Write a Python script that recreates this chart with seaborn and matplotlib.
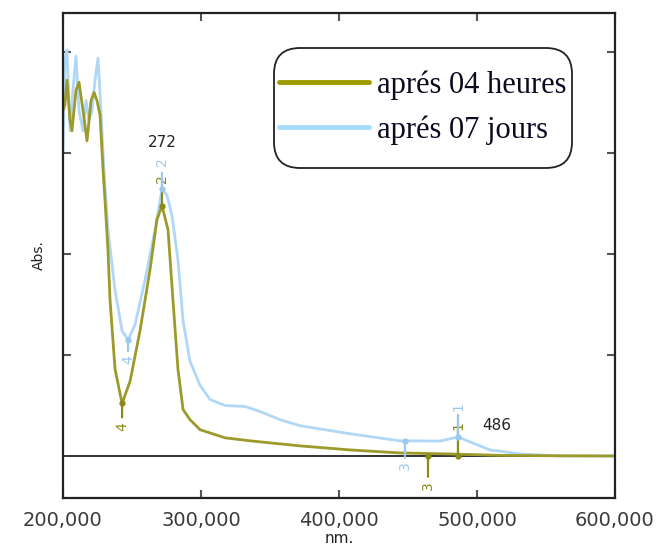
import numpy as np
import pandas as pd
import matplotlib
matplotlib.use("Agg")
import matplotlib.pyplot as plt
from matplotlib.patches import FancyBboxPatch
from matplotlib.lines import Line2D
import seaborn as sns

# ---------------- data ----------------
olive_nm = [200.0, 201.4, 202.9, 205.1, 206.5, 209.4, 211.6, 214.5, 217.4, 220.3, 222.5, 224.6, 226.8,
            229.0, 230.4, 232.6, 234.1, 237.7, 242.8, 248.6, 255.8, 263.0, 268.1, 271.7, 276.1, 279.7,
            283.3, 287.0, 292.0, 299.3, 317.4, 335.5, 371.7, 408.0, 444.2, 480.4, 516.7, 560.1, 600.0]
olive_abs = [1.71, 1.74, 1.86, 1.66, 1.61, 1.81, 1.85, 1.71, 1.56, 1.76, 1.80, 1.76, 1.69,
             1.42, 1.27, 1.02, 0.77, 0.43, 0.26, 0.37, 0.62, 0.92, 1.17, 1.24, 1.12, 0.77,
             0.43, 0.23, 0.18, 0.13, 0.09, 0.075, 0.05, 0.03, 0.015, 0.01, 0.003, 0.001, 0.0]

blue_nm = [200.0, 201.4, 202.9, 205.1, 207.2, 209.4, 211.6, 214.5, 216.7, 218.8, 221.0, 223.2, 225.4,
           227.5, 229.7, 232.6, 237.7, 242.8, 247.1, 252.2, 259.4, 266.7, 271.7, 275.4, 279.0, 283.3,
           287.0, 292.0, 299.3, 306.5, 317.4, 331.9, 342.8, 357.2, 371.7, 408.0, 444.2, 473.2, 486.2,
           494.9, 509.4, 531.2, 560.1, 600.0]
blue_abs = [1.51, 1.96, 2.01, 1.61, 1.81, 1.98, 1.71, 1.61, 1.76, 1.66, 1.71, 1.86, 1.97,
            1.71, 1.41, 1.12, 0.82, 0.62, 0.575, 0.65, 0.87, 1.12, 1.32, 1.29, 1.19, 0.97,
            0.67, 0.47, 0.35, 0.28, 0.25, 0.245, 0.22, 0.18, 0.15, 0.11, 0.075, 0.074, 0.094,
            0.07, 0.03, 0.01, 0.0, 0.0]

series_names = ["aprés 04 heures", "aprés 07 jours"]

# peak markers: (label, nm, value)
olive_marks = [("4", 242.8, 0.26), ("2", 271.7, 1.24), ("3", 464.5, 0.0), ("1", 486.2, 0.0)]
blue_marks = [("4", 247.1, 0.575), ("2", 271.7, 1.32), ("3", 447.8, 0.074), ("1", 486.2, 0.094)]

peak_labels = [("272", 272, 1.55), ("486", 514, 0.15)]

x_ticks = [200, 300, 400, 500, 600]
x_tick_labels = ["200,000", "300,000", "400,000", "500,000", "600,000"]
y_ticks = [0.5, 1.0, 1.5, 2.0]

# ---------------- plot ----------------
sns.set_style("white")
OLIVE = "#9c9a2a"
OLIVE_LEG = "#9e9a00"
BLUE = "#b0d8f6"
BLUE_LEG = "#a6dcfb"

df = pd.concat([
    pd.DataFrame({"nm": olive_nm, "abs": olive_abs, "serie": series_names[0]}),
    pd.DataFrame({"nm": blue_nm, "abs": blue_abs, "serie": series_names[1]}),
])

fig = plt.figure(figsize=(6.57, 5.47), dpi=100)
ax = fig.add_axes([63/657, 1-498/547, (615-63)/657, (498-13)/547])

sns.lineplot(data=df[df.serie == series_names[1]], x="nm", y="abs", color=BLUE, lw=2.0,
             ax=ax, legend=False, estimator=None, sort=False)
sns.lineplot(data=df[df.serie == series_names[0]], x="nm", y="abs", color=OLIVE, lw=2.0,
             ax=ax, legend=False, estimator=None, sort=False)

ax.axhline(0, color="#222222", lw=1.3, zorder=1)

ax.set_xlim(200, 600)
ax.set_ylim(-0.208, 2.193)

# markers
def draw_marks(marks, color, specs):
    for (lab, x, y), (line_off, text_off) in zip(marks, specs):
        ax.plot([x], [y], marker="o", ms=3.5, color=color, zorder=4)
        ax.annotate("", xy=(x, y), xytext=(0, line_off), textcoords="offset points",
                    arrowprops=dict(arrowstyle="-", color=color, lw=1.6, shrinkA=0, shrinkB=0))
        ax.annotate(lab, xy=(x, y), xytext=(0, text_off), textcoords="offset points",
                    rotation=90, ha="center", va="center", color=color, fontsize=10)

# offsets in points (line end, text centre)
draw_marks(olive_marks, "#8a8a1a", [(-10, -17), (14, 19), (-15, -21), (22, 22)])
draw_marks(blue_marks, "#9cc8ee", [(-8, -14), (12, 20), (-12, -18), (16, 22)])

for txt, x, y in peak_labels:
    ax.text(x, y, txt, ha="center", va="center", fontsize=11, color="#222222")

ax.set_xticks(x_ticks)
ax.set_xticklabels(x_tick_labels, fontsize=14, color="#3a3a3a")
ax.set_yticks(y_ticks)
ax.set_yticklabels([])
ax.tick_params(axis="both", direction="in", length=6, width=1.5, color="#555555",
               top=True, right=True, bottom=True, left=True, pad=9)
for sp in ax.spines.values():
    sp.set_color("#222222")
    sp.set_linewidth(1.6)
ax.set_xlabel("nm.", fontsize=11, color="#222222", labelpad=1)
ax.set_ylabel("Abs.", fontsize=10, color="#222222", labelpad=3)

# legend: rounded box + entries
box = FancyBboxPatch((2.74, (547-168)/100), (572-274)/100, 1.20,
                     boxstyle="round,pad=0,rounding_size=0.26",
                     transform=fig.dpi_scale_trans, facecolor="white",
                     edgecolor="#222222", linewidth=1.3, zorder=5)
fig.patches.append(box)
handles = [Line2D([], [], color=OLIVE_LEG, lw=3.5), Line2D([], [], color=BLUE_LEG, lw=3.5)]
leg = fig.legend(handles, series_names, loc="upper left",
                 bbox_to_anchor=(279/657, 1-70/547), frameon=False,
                 prop={"family": "Liberation Serif", "size": 22},
                 handlelength=2.95, handletextpad=0.25, labelspacing=0.52,
                 borderpad=0.0, borderaxespad=0.0, labelcolor="#0a0a20")
leg.set_zorder(6)

fig.savefig("out.png", dpi=100)
